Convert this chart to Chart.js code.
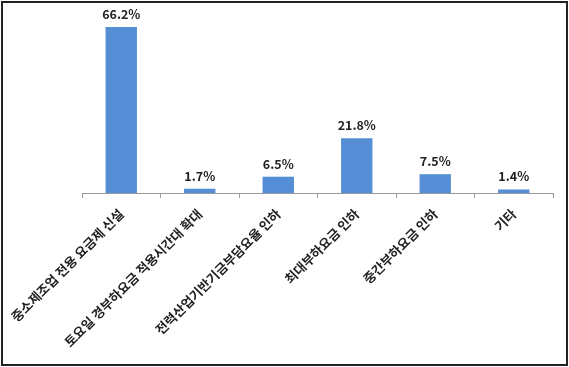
<!DOCTYPE html>
<html>
<head>
<meta charset="utf-8">
<script src="https://cdn.jsdelivr.net/npm/chart.js@4"></script>
<style>
  html, body { margin: 0; padding: 0; background: #fff; }
  #wrap { position: absolute; left: 1px; top: 1px; width: 563px; height: 361px; border: 2px solid #222; }
  #chart { position: absolute; left: 0; top: 0; }
</style>
</head>
<body>
<div id="wrap"><canvas id="chart" width="563" height="361"></canvas></div>
<script>
// 항목별 응답 비율 (%)
const categories = [
    '중소제조업 전용 요금제 신설',
    '토요일 경부하요금 적용시간대 확대',
    '전력산업기반기금부담요율 인하',
    '최대부하요금 인하',
    '중간부하요금 인하',
    '기타'
];
const values = [66.2, 1.7, 6.5, 21.8, 7.5, 1.4];

const fontFamily = '"Malgun Gothic", "Noto Sans CJK KR", sans-serif';

// 막대 위 값 표시
const valueLabels = {
    id: 'valueLabels',
    afterDatasetsDraw(chart) {
        const ctx = chart.ctx;
        const meta = chart.getDatasetMeta(0);
        ctx.save();
        ctx.font = 'bold 12.5px ' + fontFamily;
        ctx.fillStyle = '#222';
        ctx.textAlign = 'center';
        ctx.textBaseline = 'alphabetic';
        meta.data.forEach((bar, i) => {
            ctx.fillText(values[i].toFixed(1) + '%', bar.x, bar.y - 8);
        });
        ctx.restore();
    }
};

const ctx = document.getElementById('chart').getContext('2d');
new Chart(ctx, {
    type: 'bar',
    data: {
        labels: categories,
        datasets: [{
            data: values,
            backgroundColor: '#558ed5',
            categoryPercentage: 0.8,
            barPercentage: 0.5
        }]
    },
    options: {
        responsive: false,
        animation: false,
        layout: { padding: { top: 24, right: 13, left: 79, bottom: 0 } },
        plugins: {
            legend: { display: false },
            tooltip: { enabled: false }
        },
        scales: {
            x: {
                afterFit(scale) {
                    scale.height = 171;
                    scale.paddingLeft = 0;
                    scale.paddingRight = 0;
                },
                grid: {
                    offset: true,
                    drawOnChartArea: false,
                    drawTicks: true,
                    tickLength: 5,
                    color: '#999'
                },
                border: { color: '#999', width: 1 },
                ticks: {
                    maxRotation: 45,
                    minRotation: 45,
                    autoSkip: false,
                    color: '#222',
                    padding: 8,
                    font: { family: fontFamily, size: 13, weight: 'bold' }
                }
            },
            y: {
                display: false,
                min: 0,
                max: 66.2
            }
        }
    },
    plugins: [valueLabels]
});
</script>
</body>
</html>
